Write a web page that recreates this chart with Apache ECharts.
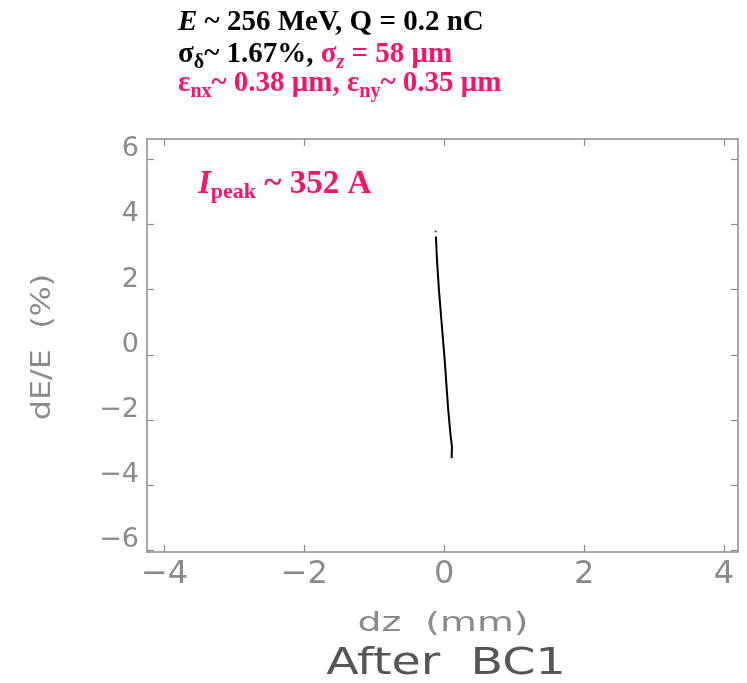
<!DOCTYPE html>
<html>
<head>
<meta charset="utf-8">
<script src="https://cdn.jsdelivr.net/npm/echarts@6/dist/echarts.min.js"></script>
<style>
	html, body { margin: 0; padding: 0; background: #fff; }
	#chart { width: 747px; height: 683px; }
</style>
</head>
<body>
<div id="chart"></div>
<script>
/* 纵向相空间 dz - dE/E (After BC1) */
var xTicks = [-4, -2, 0, 2, 4];
var yTicks = [-6, -4, -2, 0, 2, 4, 6];
var beamLine = [
	[-0.119, 3.63], [-0.104, 2.91], [-0.076, 1.99], [-0.041, 1.07],
	[0.006, -0.15], [0.053, -1.59], [0.087, -2.40], [0.110, -2.81], [0.106, -3.17]
];
var beamDots = [[-0.123, 3.78]];

var PINK = '#f4146c';
var SERIF = '"Liberation Serif", "Times New Roman", serif';
var THIN = '"DejaVu Sans ExtraLight", "DejaVu Sans", sans-serif';

var ctx = document.createElement('canvas').getContext('2d');

function fontOf(s) {
	return (s.italic ? 'italic ' : '') + 'bold ' + s.size + 'px ' + SERIF;
}

/* 按段排版一行带下标的文字, 返回 graphic 元素 */
function textLine(x, baseline, segs) {
	var els = [];
	var cx = x;
	for (var i = 0; i < segs.length; i++) {
		var s = segs[i];
		var f = fontOf(s);
		ctx.font = f;
		ctx.textBaseline = 'alphabetic';
		var a1 = ctx.measureText('x').fontBoundingBoxAscent;
		ctx.textBaseline = 'middle';
		var a2 = ctx.measureText('x').fontBoundingBoxAscent;
		var off = (a1 != null && a2 != null) ? a1 - a2 : s.size * 0.3;
		ctx.textBaseline = 'alphabetic';
		var w = ctx.measureText(s.t).width;
		els.push({
			type: 'text',
			x: cx,
			y: baseline + (s.dy || 0) - off,
			style: {
				text: s.t,
				font: f,
				fill: s.color || '#000',
				align: 'left',
				verticalAlign: 'middle'
			}
		});
		cx += w;
	}
	return els;
}

function minusFmt(v) {
	return (v < 0 ? '\u2212' : '') + Math.abs(v);
}

var graphics = [].concat(
	textLine(178, 30, [
		{t: 'E', size: 29, italic: true},
		{t: ' ~ 256 MeV, Q = 0.2 nC', size: 29}
	]),
	textLine(178, 62, [
		{t: '\u03c3', size: 29},
		{t: '\u03b4', size: 20, dy: 6},
		{t: '~ 1.67%, ', size: 29},
		{t: '\u03c3', size: 29, color: PINK},
		{t: 'z', size: 20, dy: 6, italic: true, color: PINK},
		{t: ' = 58 \u03bcm', size: 29, color: PINK}
	]),
	textLine(178, 91, [
		{t: '\u03b5', size: 29, color: PINK},
		{t: 'nx', size: 20, dy: 6, color: PINK},
		{t: '~ 0.38 \u03bcm, \u03b5', size: 29, color: PINK},
		{t: 'ny', size: 20, dy: 6, color: PINK},
		{t: '~ 0.35 \u03bcm', size: 29, color: PINK}
	]),
	textLine(198, 193, [
		{t: 'I', size: 33, italic: true, color: PINK},
		{t: 'peak', size: 22, dy: 5, color: PINK},
		{t: ' ~ 352 A', size: 33, color: PINK}
	])
);

graphics.push({
	type: 'text', x: 443, y: 624, scaleX: 1.4,
	style: {text: 'dz  (mm)', font: '27px ' + THIN, fill: '#8a8a8a', align: 'center', verticalAlign: 'middle'}
});
graphics.push({
	type: 'text', x: 446, y: 664, scaleX: 1.25,
	style: {text: 'After  BC1', font: '38px ' + THIN, fill: '#555', align: 'center', verticalAlign: 'middle'}
});
graphics.push({
	type: 'text', x: 43, y: 347, rotation: Math.PI / 2, scaleX: 1.18,
	style: {text: 'dE/E  (%)', font: '27px ' + THIN, fill: '#8a8a8a', align: 'center', verticalAlign: 'middle'}
});

var axisLineStyle = {color: '#8c8c8c', width: 1.5};
var tickStyle = {color: '#8c8c8c', width: 1.2};

var option = {
	animation: false,
	grid: {left: 147, right: 9, top: 139, bottom: 131, containLabel: false},
	xAxis: [
		{
			type: 'value', position: 'bottom', min: -4.25, max: 4.2,
			axisLine: {show: true, onZero: false, lineStyle: axisLineStyle},
			axisTick: {show: true, inside: true, length: 7, customValues: xTicks, lineStyle: tickStyle},
			axisLabel: {customValues: xTicks, formatter: minusFmt, fontSize: 32, color: '#8a8a8a', margin: 7, fontFamily: THIN},
			splitLine: {show: false}
		},
		{
			type: 'value', position: 'top', min: -4.25, max: 4.2,
			axisLine: {show: true, onZero: false, lineStyle: axisLineStyle},
			axisTick: {show: true, inside: true, length: 7, customValues: xTicks, lineStyle: tickStyle},
			axisLabel: {show: false},
			splitLine: {show: false}
		}
	],
	yAxis: [
		{
			type: 'value', position: 'left', min: -6.05, max: 6.62,
			axisLine: {show: true, onZero: false, lineStyle: axisLineStyle},
			axisTick: {show: true, inside: true, length: 7, customValues: yTicks, lineStyle: tickStyle},
			axisLabel: {customValues: yTicks, formatter: minusFmt, fontSize: 27, color: '#8a8a8a', margin: 8,
				fontFamily: THIN, verticalAlign: 'bottom', lineHeight: 20},
			splitLine: {show: false}
		},
		{
			type: 'value', position: 'right', min: -6.05, max: 6.62,
			axisLine: {show: true, onZero: false, lineStyle: axisLineStyle},
			axisTick: {show: true, inside: true, length: 7, customValues: yTicks, lineStyle: tickStyle},
			axisLabel: {show: false},
			splitLine: {show: false}
		}
	],
	series: [
		{
			type: 'line', xAxisIndex: 0, yAxisIndex: 0,
			data: beamLine, showSymbol: false, smooth: false,
			lineStyle: {color: '#000', width: 2}
		},
		{
			type: 'scatter', xAxisIndex: 0, yAxisIndex: 0,
			data: beamDots, symbolSize: 2,
			itemStyle: {color: '#000'}
		}
	],
	graphic: graphics
};

var chart = echarts.init(document.getElementById('chart'));
chart.setOption(option);
</script>
</body>
</html>
